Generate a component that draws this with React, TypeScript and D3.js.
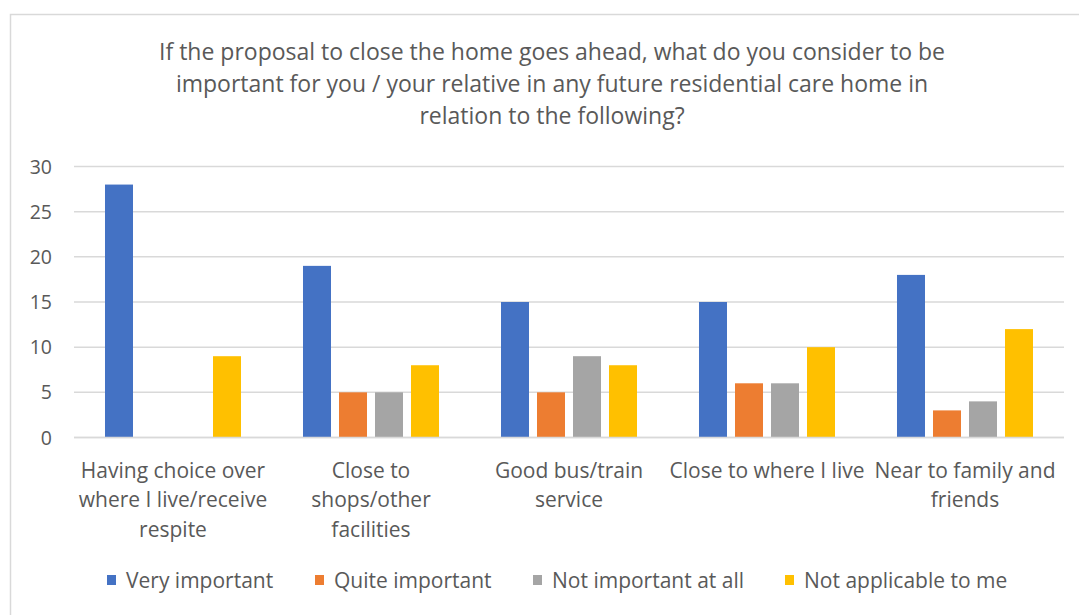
import React from "react";
import * as d3 from "d3";

const titleLines = [
  "If the proposal to close the home goes ahead, what do you consider to be",
  "important for you / your relative in any future residential care home in",
  "relation to the following?",
];
const categories = [
  "Having choice over where I live/receive respite",
  "Close to shops/other facilities",
  "Good bus/train service",
  "Close to where I live",
  "Near to family and friends",
];
const categoryLines = [
  ["Having choice over", "where I live/receive", "respite"],
  ["Close to", "shops/other", "facilities"],
  ["Good bus/train", "service"],
  ["Close to where I live"],
  ["Near to family and", "friends"],
];
const seriesNames = ["Very important", "Quite important", "Not important at all", "Not applicable to me"];
const veryImportant = [28, 19, 15, 15, 18];
const quiteImportant = [0, 5, 5, 6, 3];
const notImportant = [0, 5, 9, 6, 4];
const notApplicable = [9, 8, 8, 10, 12];
const yTicks = [0, 5, 10, 15, 20, 25, 30];
const colors = ["#4472C4", "#ED7D31", "#A5A5A5", "#FFC000"];

const FONT = "'Open Sans', 'Noto Sans', sans-serif";
const TEXT = "#595959";

export default function App() {
  const W = 1079, H = 615;
  const left = 74, right = 1064, top = 166.5, bottom = 437.5;
  const y = d3.scaleLinear().domain([0, 30]).range([bottom, top]);
  const x = d3.scaleBand<string>().domain(categories).range([left, right]).padding(0);
  const inner = d3
    .scaleBand<string>()
    .domain(seriesNames)
    .range([0, x.bandwidth()])
    .paddingInner(8 / 36)
    .paddingOuter(0.861);
  const series = [veryImportant, quiteImportant, notImportant, notApplicable];

  const legendX = [107, 315, 533, 785];

  return (
    <svg width={W} height={H} style={{ position: "absolute", left: 0, top: 0, display: "block" }} fontFamily={FONT}>
      <rect x={0} y={0} width={W} height={H} fill="#fff" />
      <rect x={10.5} y={14.5} width={W + 10} height={H + 10} fill="#fff" stroke="#D9D9D9" strokeWidth={1.5} />
      {titleLines.map((t, i) => (
        <text key={i} x={552} y={60 + i * 32} textAnchor="middle" fontSize={23} fill={TEXT}>
          {t}
        </text>
      ))}
      {yTicks.map((t) => (
        <g key={t}>
          <line x1={left} x2={right} y1={y(t)} y2={y(t)} stroke="#D9D9D9" strokeWidth={1.5} />
          <text x={52} y={y(t) + 7} textAnchor="end" fontSize={19.5} fill={TEXT}>
            {t}
          </text>
        </g>
      ))}
      {categories.map((c, ci) => (
        <g key={c}>
          {series.map((s, si) =>
            s[ci] > 0 ? (
              <rect
                key={si}
                x={(x(c) as number) + (inner(seriesNames[si]) as number)}
                y={y(s[ci])}
                width={inner.bandwidth()}
                height={y(0) - y(s[ci])}
                fill={colors[si]}
              />
            ) : null
          )}
          {categoryLines[ci].map((l, li) => (
            <text
              key={li}
              x={(x(c) as number) + x.bandwidth() / 2}
              y={477.5 + li * 29.5}
              textAnchor="middle"
              fontSize={21}
              fill={TEXT}
            >
              {l}
            </text>
          ))}
        </g>
      ))}
      <line x1={left} x2={right} y1={y(0)} y2={y(0)} stroke="#D9D9D9" strokeWidth={1.5} />
      {seriesNames.map((n, i) => (
        <g key={n}>
          <rect x={legendX[i]} y={575} width={9} height={10} fill={colors[i]} />
          <text x={legendX[i] + 19} y={587.5} fontSize={21} fill={TEXT}>
            {n}
          </text>
        </g>
      ))}
    </svg>
  );
}
